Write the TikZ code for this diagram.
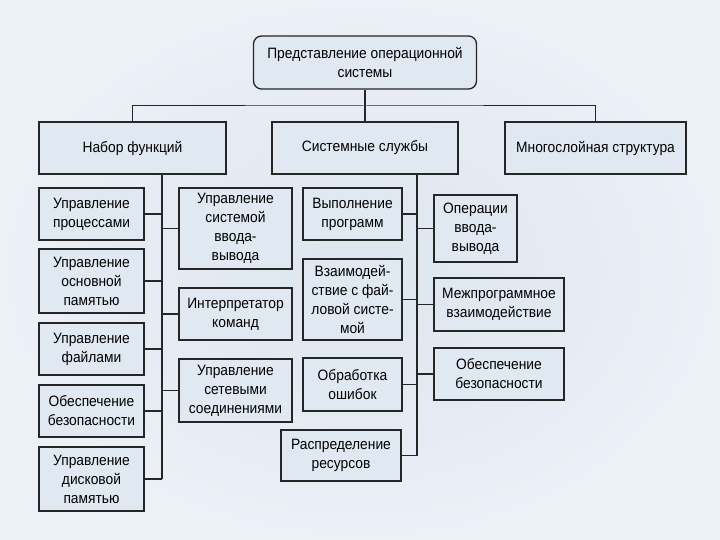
\documentclass[tikz,border=0pt]{standalone}
\usepackage{fontspec}
\setmainfont{Liberation Sans}[FakeStretch=0.92]
\usepackage{tikz}
\usetikzlibrary{positioning}
\definecolor{slidebg}{HTML}{ECF0F7}
\definecolor{slidemid}{HTML}{DCE5EE}
\definecolor{boxfill}{HTML}{E0E8F1}
\definecolor{boxline}{HTML}{262626}

\begin{document}
\begin{tikzpicture}[x=1pt, y=-1pt,
    osbox/.style={draw=boxline, fill=boxfill, line width=1.3pt, align=center,
      inner sep=0pt, font=\fontsize{15}{19}\selectfont},
    link/.style={draw=boxline, line width=1.2pt}]
    \useasboundingbox (0,0) rectangle (720,540);
    \shade[inner color=slidemid, outer color=slidebg] (0,0) rectangle (720,540);

    % root
    \node[osbox, rounded corners=8pt, minimum width=223pt, minimum height=53pt] (root) at (365,62.5)
      {Представление операционной\\системы};

    % second level
    \node[osbox, minimum width=187pt, minimum height=52pt] (funcs) at (132.5,148) {Набор функций};
    \node[osbox, minimum width=186pt, minimum height=52pt] (serv) at (365,148) {Системные службы};
    \node[osbox, minimum width=181pt, minimum height=52pt] (layer) at (595.5,148) {Многослойная структура};

    % functions
    \node[osbox, minimum width=105pt, minimum height=52pt] (fproc) at (91.5,214) {Управление\\процессами};
    \node[osbox, minimum width=105pt, minimum height=64pt] (fmem) at (91.5,281) {Управление\\основной\\памятью};
    \node[osbox, minimum width=105pt, minimum height=52pt] (ffile) at (91.5,349) {Управление\\файлами};
    \node[osbox, minimum width=105pt, minimum height=52pt] (fsec) at (91.5,411) {Обеспечение\\безопасности};
    \node[osbox, minimum width=105pt, minimum height=64pt] (fdisk) at (91.5,479) {Управление\\дисковой\\памятью};
    \node[osbox, minimum width=113pt, minimum height=81pt] (fio) at (235.5,228.5) {Управление\\системой\\ввода-\\вывода};
    \node[osbox, minimum width=113pt, minimum height=52pt] (fcmd) at (235.5,314) {Интерпретатор\\команд};
    \node[osbox, minimum width=113pt, minimum height=63pt] (fnet) at (235.5,390.5) {Управление\\сетевыми\\соединениями};

    % services
    \node[osbox, minimum width=99pt, minimum height=52pt] (srun) at (352.5,214) {Выполнение\\программ};
    \node[osbox, minimum width=99pt, minimum height=81pt] (sfs) at (352.5,299.5) {Взаимодей-\\ствие с фай-\\ловой систе-\\мой};
    \node[osbox, minimum width=99pt, minimum height=53pt] (serr) at (352.5,384.5) {Обработка\\ошибок};
    \node[osbox, minimum width=120pt, minimum height=51pt] (sres) at (341,455.5) {Распределение\\ресурсов};
    \node[osbox, minimum width=83pt, minimum height=67pt] (sio) at (475.5,228.5) {Операции\\ввода-\\вывода};
    \node[osbox, minimum width=130pt, minimum height=53pt] (sipc) at (499,304.5) {Межпрограммное\\взаимодействие};
    \node[osbox, minimum width=130pt, minimum height=52pt] (ssec) at (499,374) {Обеспечение\\безопасности};

    % connectors
    \coordinate (bar) at (365,106);
    \coordinate (ftrunk) at (162,174);
    \coordinate (strunk) at (417,174);
    \draw[link, line width=1pt] (funcs.north) |- (bar) -| (layer.north);
    \draw[link] (root.south) -- (serv.north);
    \draw[link] (ftrunk) -- (ftrunk |- fdisk.east);
    \foreach \b in {fproc, fmem, ffile, fsec, fdisk}
      \draw[link] (\b.east) -- (\b.east -| ftrunk);
    \foreach \b in {fio, fcmd, fnet}
      \draw[link] (\b.west) -- (\b.west -| ftrunk);
    \draw[link] (strunk) -- (strunk |- sres.east);
    \foreach \b in {srun, sfs, serr, sres}
      \draw[link] (\b.east) -- (\b.east -| strunk);
    \foreach \b in {sio, sipc, ssec}
      \draw[link] (\b.west) -- (\b.west -| strunk);
\end{tikzpicture}
\end{document}
